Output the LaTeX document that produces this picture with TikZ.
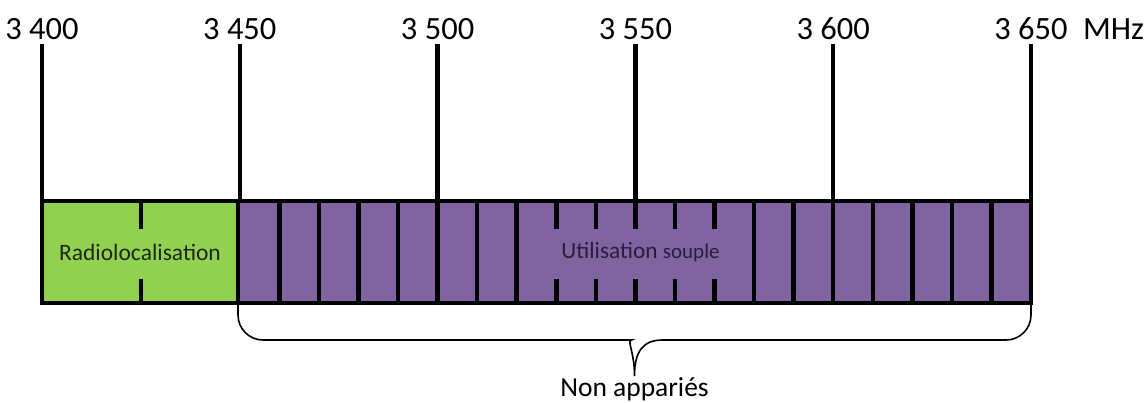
\documentclass[tikz,border=0pt]{standalone}
\usepackage{fontspec}
\setmainfont{Carlito}
\usepackage{xcolor}
\usetikzlibrary{positioning, calc}
\definecolor{radiogreen}{RGB}{146, 208, 80}
\definecolor{souplepurple}{RGB}{128, 100, 162}
\definecolor{radiotext}{RGB}{30, 38, 20}
\definecolor{soupletext}{RGB}{40, 30, 58}

\begin{document}
\begin{tikzpicture}[
  x=1pt, y=-1pt,
  band/.style={draw=black, line width=4pt, minimum height=102pt, inner sep=0pt, outer sep=0pt, anchor=north west},
  ticklabel/.style={font=\fontsize{32.5}{36}\selectfont, inner sep=0pt, anchor=base},
  tickline/.style={line width=4.5pt},
  divider/.style={line width=4.5pt},
  bracket/.style={line width=1.6pt}
]
\useasboundingbox (0,0) rectangle (1147,402);

\node[band, fill=radiogreen, minimum width=196pt, text=radiotext, font=\fontsize{23.5}{26}\selectfont] (radio) at (42,201) {Radiolocalisation};
\node[band, fill=souplepurple, minimum width=793pt, text=soupletext, font=\fontsize{23.3}{26}\selectfont] (souple) at (238,201)
  {\hspace*{12pt}Utilisation {\fontsize{21}{24}\selectfont souple}};

\foreach \f in {3460,3470,...,3520,3580,3590,...,3640}{
  \pgfmathsetmacro\xx{42+(\f-3400)*3.956}
  \draw[divider] (\xx,201) -- (\xx,303);
}
\foreach \f in {3425,3530,3540,...,3570}{
  \pgfmathsetmacro\xx{42+(\f-3400)*3.956}
  \draw[divider] (\xx,201) -- (\xx,229);
  \draw[divider] (\xx,279) -- (\xx,303);
}

\foreach \f/\txt in {3400/3 400, 3450/3 450, 3500/3 500, 3550/3 550, 3600/3 600, 3650/3 650}{
  \pgfmathsetmacro\xx{42+(\f-3400)*3.956}
  \node[ticklabel] (t\f) at (\xx,39) {\txt};
  \draw[tickline] ([yshift=-5pt]t\f.south) -- (t\f.south |- souple.north);
}
\node[ticklabel, anchor=base west] (mhz) at ([xshift=15pt]t3650.base east) {MHz};

\coordinate (tip) at ($(souple.south west)!0.5!(souple.south east)+(0,73)$);
\draw[bracket] (souple.south west) [rounded corners=25pt] -- ($(souple.south west)+(0,37)$) -- ($(tip)+(-28,-36)$)
  [sharp corners] .. controls ($(tip)+(-8,-36)$) and ($(tip)+(0,-24)$) .. (tip)
  .. controls ($(tip)+(0,-24)$) and ($(tip)+(8,-36)$) .. ($(tip)+(28,-36)$)
  [rounded corners=25pt] -- ($(souple.south east)+(0,37)$) -- (souple.south east);
\node[below=1pt of tip, inner sep=0pt, font=\fontsize{27.5}{30}\selectfont] (nonapp) {Non appariés};
\end{tikzpicture}
\end{document}
